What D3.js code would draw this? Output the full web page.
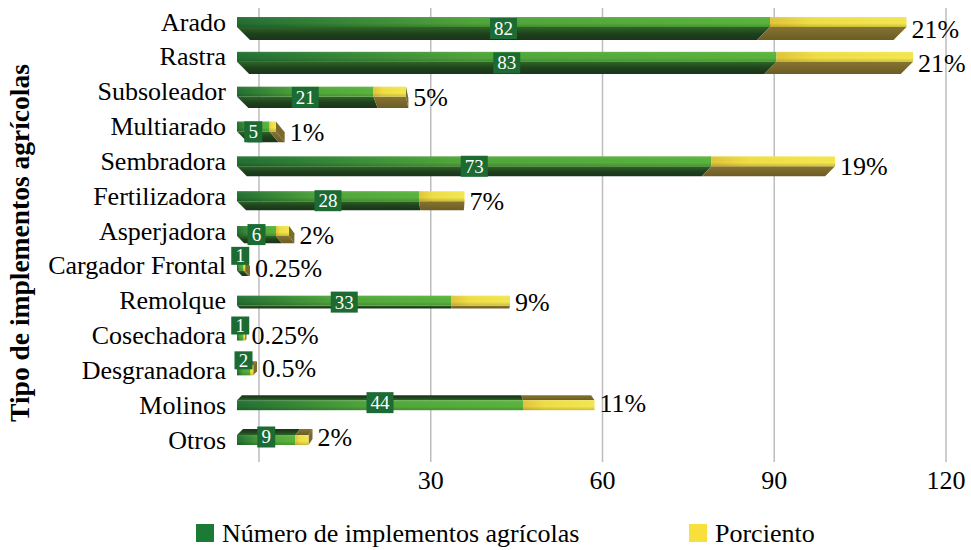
<!DOCTYPE html>
<html>
<head>
<meta charset="utf-8">
<script src="https://cdn.jsdelivr.net/npm/d3@7"></script>
<style>
  body { margin: 0; background: #fff; }
  text { font-family: "Liberation Serif", "Times New Roman", "DejaVu Serif", serif; }
</style>
</head>
<body>
<svg id="chart" width="971" height="550"></svg>
<script>
const categories = ['Arado', 'Rastra', 'Subsoleador', 'Multiarado', 'Sembradora', 'Fertilizadora',
    'Asperjadora', 'Cargador Frontal', 'Remolque', 'Cosechadora', 'Desgranadora', 'Molinos', 'Otros'];
const counts = [82, 83, 21, 5, 73, 28, 6, 1, 33, 1, 2, 44, 9];
const percents = [21, 21, 5, 1, 19, 7, 2, 0.25, 9, 0.25, 0.5, 11, 2];
const tickValues = [30, 60, 90, 120];
const seriesNames = ['Número de implementos agrícolas', 'Porciento'];

const svg = d3.select('#chart');
const defs = svg.append('defs');

function grad (id, stops, vertical) {
    const g = defs.append('linearGradient').attr('id', id)
        .attr('x1', 0).attr('y1', 0)
        .attr('x2', vertical ? 0 : 1).attr('y2', vertical ? 1 : 0);
    stops.forEach(s => g.append('stop').attr('offset', s[0]).attr('stop-color', s[1]));
}
grad('gFront', [[0, '#236f33'], [0.45, '#4fa63a'], [1, '#5ab53c']]);
grad('yFront', [[0, '#e3c63a'], [0.3, '#f1e044'], [1, '#f6e94f']]);
grad('shade', [[0, 'rgba(255,255,255,0.08)'], [0.6, 'rgba(0,0,0,0)'], [1, 'rgba(0,0,0,0.18)']], true);
grad('gSideDown', [[0, '#2e6526'], [0.5, '#1f421d'], [1, '#1a3419']], true);
grad('gSideUp', [[0, '#1a3419'], [0.5, '#1f421d'], [1, '#2e6526']], true);
grad('ySide', [[0, '#857330'], [1, '#6c5d26']], true);

const y = d3.scalePoint().domain(categories).range([22, 440]);
const xGrid = d3.scaleLinear().domain([0, 120]).range([259, 946]);
const xBar = d3.scaleLinear().domain([0, 120]).range([237, 1017]);
const depth = d3.scaleLinear().domain([22, 200, 300, 318, 369, 440]).range([13, 9, 3, 0, -4, -6]).clamp(true);
const lean = d3.scaleLinear().domain([237, 450]).range([1, 0]);
const shift = (x, d) => Math.abs(d) * Math.max(-1, Math.min(1, lean(x)));

// grid
svg.append('g')
    .selectAll('line')
    .data([0].concat(tickValues))
    .enter()
    .append('line')
    .attr('x1', d => xGrid(d)).attr('x2', d => xGrid(d))
    .attr('y1', 8).attr('y2', 462)
    .attr('stroke', '#bdbdbd')
    .attr('stroke-width', 1.5);

svg.append('g')
    .selectAll('text')
    .data(tickValues)
    .enter()
    .append('text')
    .attr('x', d => xGrid(d))
    .attr('y', 489)
    .attr('text-anchor', 'middle')
    .attr('font-size', 26)
    .text(d => d);

// bars
const rows = categories.map((c, i) => ({ cat: c, count: counts[i], pct: percents[i] }));
const pts = p => p.map(q => q.join(',')).join(' ');

const bars = svg.append('g')
    .selectAll('g')
    .data(rows)
    .enter()
    .append('g');

bars.each(function (r) {
    const g = d3.select(this);
    const cy = y(r.cat);
    const y0 = cy - 5, y1 = cy + 5;
    const d = depth(cy);
    const segs = [
        { a: xBar(0), b: xBar(r.count), front: 'url(#gFront)', side: d > 0 ? 'url(#gSideDown)' : 'url(#gSideUp)', end: '#1f421d' },
        { a: xBar(r.count), b: xBar(r.count + r.pct), front: 'url(#yFront)', side: 'url(#ySide)', end: '#7a6a2b' }
    ];
    const ye = d > 0 ? y1 : y0;
    segs.forEach((s, k) => {
        g.append('polygon')
            .attr('points', pts([[s.a, ye], [s.b, ye], [s.b + shift(s.b, d), ye + d], [s.a + shift(s.a, d), ye + d]]))
            .attr('fill', s.side);
        if (k === 1 && shift(s.b, d) > 0) {
            const sb = shift(s.b, d);
            g.append('polygon')
                .attr('points', pts([[s.b, y0], [s.b, y1], [s.b + sb, y1 + d], [s.b + sb, y0 + d]]))
                .attr('fill', s.end);
        }
        g.append('rect')
            .attr('x', s.a).attr('y', y0)
            .attr('width', s.b - s.a).attr('height', y1 - y0)
            .attr('fill', s.front);
        g.append('rect')
            .attr('x', s.a).attr('y', y0)
            .attr('width', s.b - s.a).attr('height', y1 - y0)
            .attr('fill', 'url(#shade)');
    });

    // value label
    const small = r.count < 3;
    const txt = String(r.count);
    const w = 9 + 9 * txt.length;
    const h = small ? 18 : 21;
    const lx = (xBar(0) + xBar(r.count)) / 2;
    const ly = small ? cy - 10 : cy + d / 2;
    g.append('rect')
        .attr('x', lx - w / 2).attr('y', ly - h / 2)
        .attr('width', w).attr('height', h)
        .attr('fill', '#1b6b33');
    g.append('text')
        .attr('x', lx).attr('y', ly)
        .attr('dy', '0.34em')
        .attr('text-anchor', 'middle')
        .attr('font-size', 19)
        .attr('fill', '#fff')
        .text(txt);

    // percent label
    const xe = xBar(r.count + r.pct);
    g.append('text')
        .attr('x', Math.max(xe, xe + shift(xe, d)) + 5)
        .attr('y', cy + d / 2)
        .attr('dy', '0.35em')
        .attr('font-size', 26)
        .text(r.pct + '%');
});

// category labels
svg.append('g')
    .selectAll('text')
    .data(categories)
    .enter()
    .append('text')
    .attr('x', 226)
    .attr('y', d => y(d))
    .attr('dy', '0.33em')
    .attr('text-anchor', 'end')
    .attr('font-size', 26)
    .text(d => d);

svg.append('text')
    .attr('transform', 'translate(29,243) rotate(-90)')
    .attr('text-anchor', 'middle')
    .attr('font-size', 27.5)
    .attr('font-weight', 'bold')
    .text('Tipo de implementos agrícolas');

// legend
const legend = svg.append('g')
    .selectAll('g')
    .data(seriesNames)
    .enter()
    .append('g')
    .attr('transform', (d, i) => `translate(${i === 0 ? 196 : 689},524)`);
legend.append('rect')
    .attr('width', 18).attr('height', 18)
    .attr('fill', (d, i) => i === 0 ? '#1c7a37' : '#f8e03c');
legend.append('text')
    .attr('x', 26).attr('y', 9)
    .attr('dy', '0.35em')
    .attr('font-size', 26)
    .text(d => d);
</script>
</body>
</html>
